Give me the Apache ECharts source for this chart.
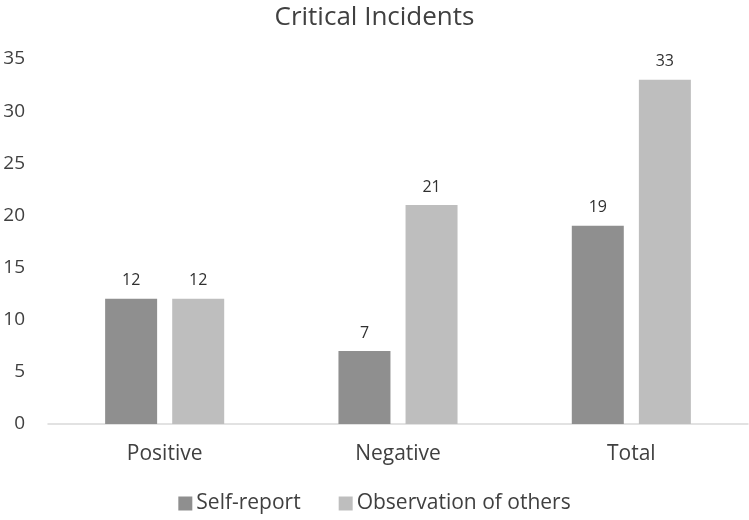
<!DOCTYPE html>
<html><head><meta charset="utf-8">
<script src="https://cdn.jsdelivr.net/npm/echarts@6/dist/echarts.min.js"></script>
<style>html,body{margin:0;padding:0;background:#fff}#c{width:749px;height:520px}</style>
</head><body><div id="c"></div>
<script>
const categories = ['Positive', 'Negative', 'Total'];
const selfReport = [12, 7, 19];
const observationOfOthers = [12, 21, 33];
const yTicks = [0, 5, 10, 15, 20, 25, 30, 35];

const font = 'Open Sans, Lato, sans-serif';
const chart = echarts.init(document.getElementById('c'));
chart.setOption({
  animation: false,
  backgroundColor: '#fff',
  title: {
    text: 'Critical Incidents', left: 'center', top: 0,
    textStyle: { fontFamily: font, fontSize: 26, fontWeight: 'normal', color: '#404040' }
  },
  legend: {
    bottom: 1, left: 'center', itemWidth: 14, itemHeight: 14, itemGap: 38,
    icon: 'rect',
    textStyle: { fontFamily: font, fontSize: 21, color: '#404040', padding: [0, 0, 0, -1] }
  },
  grid: { left: 48, right: 1, top: 59, bottom: 96, containLabel: false },
  xAxis: {
    type: 'category', data: categories,
    axisLine: { lineStyle: { color: '#d9d9d9', width: 1.5 } },
    axisTick: { show: false },
    axisLabel: { fontFamily: font, fontSize: 21, color: '#404040', margin: 20 }
  },
  yAxis: {
    type: 'value', min: yTicks[0], max: yTicks[yTicks.length - 1], interval: 5,
    axisLine: { show: false }, axisTick: { show: false },
    splitLine: { show: false },
    axisLabel: { fontFamily: font, fontSize: 19, color: '#404040', margin: 23 }
  },
  series: [
    {
      name: 'Self-report', type: 'bar', data: selfReport, barWidth: 52, barGap: '29%',
      itemStyle: { color: '#8f8f8f' },
      label: { show: true, position: 'top', distance: 10, fontFamily: font, fontSize: 16, color: '#303030' }
    },
    {
      name: 'Observation of others', type: 'bar', data: observationOfOthers, barWidth: 52,
      itemStyle: { color: '#bebebe' },
      label: { show: true, position: 'top', distance: 10, fontFamily: font, fontSize: 16, color: '#303030' }
    }
  ]
});
</script></body></html>
